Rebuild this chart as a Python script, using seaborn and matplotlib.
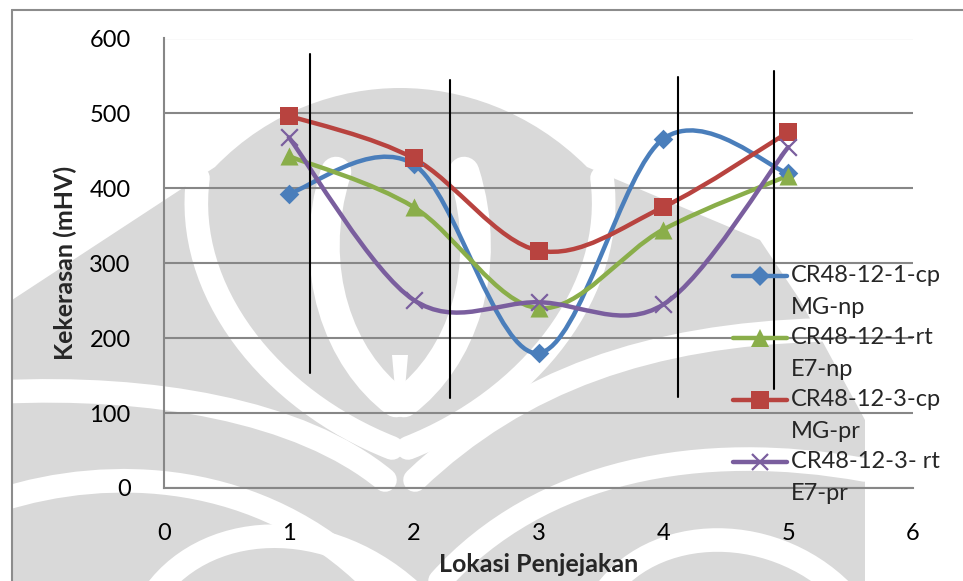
import numpy as np
import pandas as pd
import matplotlib
matplotlib.use("Agg")
import matplotlib.pyplot as plt
from matplotlib.path import Path
from matplotlib.patches import PathPatch, Polygon
from matplotlib.lines import Line2D
import seaborn as sns

# Hardness measurements at each indentation location
lokasi = [1, 2, 3, 4, 5]
cr1_cp_mg_np = [393, 432, 180, 466, 420]
cr1_rt_e7_np = [443, 375, 240, 345, 417]
cr3_cp_mg_pr = [497, 440, 317, 375, 475]
cr3_rt_e7_pr = [468, 251, 248, 245, 455]

series_labels = ["CR48-12-1-cp\nMG-np", "CR48-12-1-rt\nE7-np",
                 "CR48-12-3-cp\nMG-pr", "CR48-12-3- rt\nE7-pr"]
series_values = [cr1_cp_mg_np, cr1_rt_e7_np, cr3_cp_mg_pr, cr3_rt_e7_pr]

# Weld-zone boundary markers: x position and vertical extent
batas_x = [1.17, 2.29, 4.12, 4.89]
batas_bawah = [153, 120, 121, 132]
batas_atas = [579, 545, 548, 557]

x_ticks = [0, 1, 2, 3, 4, 5, 6]
y_ticks = [0, 100, 200, 300, 400, 500, 600]

colors = ["#4A7EBB", "#8AAE4A", "#B8433F", "#7A5E9E"]
markers = ["D", "^", "s", "x"]
marker_sizes = [10, 13, 13, 12]

sns.set_theme(style="white")
plt.rcParams["font.family"] = ["Lato", "DejaVu Sans"]

W, H = 963, 581
fig = plt.figure(figsize=(W / 100, H / 100), dpi=100)
fig.patch.set_facecolor("white")

# ---- page background: faint emblem watermark (pixel coordinates) ----
bg = fig.add_axes([0, 0, 1, 1], zorder=-5)
bg.set_xlim(0, W)
bg.set_ylim(H, 0)
bg.axis("off")
GREY = "#d9d9d9"


def bez(p0, c1, c2, p1):
    return Path([p0, c1, c2, p1], [Path.MOVETO, Path.CURVE4, Path.CURVE4, Path.CURVE4])


outer = Path(
    [(12, 300), (215, 167),
     (270, 110), (340, 88), (400, 88),
     (460, 88), (530, 110), (587, 167),
     (760, 240), (800, 300), (865, 420),
     (865, 581), (12, 581), (12, 300)],
    [Path.MOVETO, Path.LINETO,
     Path.CURVE4, Path.CURVE4, Path.CURVE4,
     Path.CURVE4, Path.CURVE4, Path.CURVE4,
     Path.LINETO, Path.LINETO, Path.LINETO,
     Path.LINETO, Path.LINETO, Path.CLOSEPOLY])
bg.add_patch(PathPatch(outer, facecolor=GREY, edgecolor="none"))

white_bands = [
    (bez((198, 178), (183, 290), (270, 400), (392, 448)), 17),
    (bez((602, 178), (617, 290), (530, 400), (408, 448)), 17),
    (bez((336, 172), (305, 270), (340, 360), (396, 402)), 22),
    (bez((464, 172), (495, 270), (460, 360), (404, 402)), 22),
    (bez((0, 392), (150, 385), (300, 410), (385, 480)), 17),
    (bez((0, 500), (110, 465), (260, 470), (372, 581)), 17),
    (bez((150, 600), (200, 520), (330, 510), (420, 600)), 17),
    (bez((820, 330), (650, 335), (520, 380), (415, 480)), 17),
    (bez((865, 470), (700, 440), (540, 470), (440, 581)), 17),
    (bez((600, 600), (650, 520), (780, 520), (850, 600)), 17),
]
for pth, lw in white_bands:
    bg.add_patch(PathPatch(pth, facecolor="none", edgecolor="white",
                           linewidth=lw, capstyle="round"))
bg.add_patch(Polygon([(392, 355), (408, 355), (404, 400), (396, 400)],
                     closed=True, facecolor="white", edgecolor="none"))

# ---- chart ----
ax_left, ax_right, ax_top, ax_bottom = 164, 913, 38.5, 488
ax = fig.add_axes([ax_left / W, (H - ax_bottom) / H,
                   (ax_right - ax_left) / W, (ax_bottom - ax_top) / H])
ax.set_facecolor("none")

ax.set_xlim(0, 6)
ax.set_ylim(0, 600)
ax.set_xticks(x_ticks)
ax.set_yticks(y_ticks)
ax.grid(axis="y", color="#878787", linewidth=1.5)
ax.grid(axis="x", visible=False)
for side in ["top", "right"]:
    ax.spines[side].set_visible(False)
for side in ["left", "bottom"]:
    ax.spines[side].set_color("#878787")
    ax.spines[side].set_linewidth(1.5)
ax.tick_params(axis="y", length=0, pad=24, labelsize=17, labelcolor="black")
ax.tick_params(axis="x", length=0, pad=25, labelsize=17, labelcolor="black")


def smooth_path(xs, ys):
    """Cubic Bezier path through the points (Catmull-Rom style smoothing)."""
    pts = np.column_stack([xs, ys]).astype(float)
    n = len(pts)
    verts = [pts[0]]
    codes = [Path.MOVETO]
    for i in range(n - 1):
        p0 = pts[i - 1] if i > 0 else pts[i]
        p1 = pts[i]
        p2 = pts[i + 1]
        p3 = pts[i + 2] if i + 2 < n else pts[i + 1]
        c1 = p1 + (p2 - p0) / 6.0
        c2 = p2 - (p3 - p1) / 6.0
        verts += [c1, c2, p2]
        codes += [Path.CURVE4] * 3
    return Path(verts, codes)


df = pd.DataFrame({"lokasi": lokasi})
for vals, col, mk, ms in zip(series_values, colors, markers, marker_sizes):
    patch = PathPatch(smooth_path(lokasi, vals), facecolor="none", edgecolor=col,
                      linewidth=3.2, zorder=3, capstyle="round", joinstyle="round")
    ax.add_patch(patch)
    df["nilai"] = vals
    if mk == "x":
        sns.scatterplot(data=df, x="lokasi", y="nilai", marker=mk, s=ms ** 2,
                        color=col, linewidth=1.6, ax=ax, zorder=4, legend=False)
    else:
        sns.scatterplot(data=df, x="lokasi", y="nilai", marker=mk, s=ms ** 2,
                        color=col, edgecolor=col, linewidth=0, ax=ax, zorder=4,
                        legend=False)

ax.set_xlabel("Lokasi Penjejakan", fontsize=18, fontweight="bold", labelpad=7)
ax.set_ylabel("Kekerasan (mHV)", fontsize=18, fontweight="bold", labelpad=9)

# Vertical boundary lines
for bx, b0, b1 in zip(batas_x, batas_bawah, batas_atas):
    ax.plot([bx, bx], [b0, b1], color="black", linewidth=1.5, zorder=5)

# Legend drawn entry by entry: handle beside the first text line
leg_x0, leg_x1, leg_text_x = 733, 787, 791
leg_y0, leg_dy, line_dy = 276, 62, 31
for i, (lab, col, mk, ms) in enumerate(zip(series_labels, colors, markers, marker_sizes)):
    yy = leg_y0 + i * leg_dy
    fy = 1 - yy / H
    fig.add_artist(Line2D([leg_x0 / W, leg_x1 / W], [fy, fy], color=col,
                          linewidth=3.2, transform=fig.transFigure, zorder=6))
    fig.add_artist(Line2D([(leg_x0 + leg_x1) / 2 / W], [fy], color=col,
                          marker=mk, markersize=ms,
                          markeredgewidth=1.6 if mk == "x" else 0,
                          transform=fig.transFigure, zorder=7))
    first, second = lab.split("\n")
    fig.text(leg_text_x / W, fy, first, fontsize=17, va="center", ha="left")
    fig.text(leg_text_x / W, 1 - (yy + line_dy) / H, second, fontsize=17,
             va="center", ha="left")

# Outer chart frame
fig.add_artist(Line2D([12 / W, 12 / W], [0, 1 - 10 / H], color="#8c8c8c",
                      linewidth=1.5, transform=fig.transFigure))
fig.add_artist(Line2D([12 / W, 1], [1 - 10 / H, 1 - 10 / H], color="#8c8c8c",
                      linewidth=1.5, transform=fig.transFigure))

fig.savefig("out.png", dpi=100)
